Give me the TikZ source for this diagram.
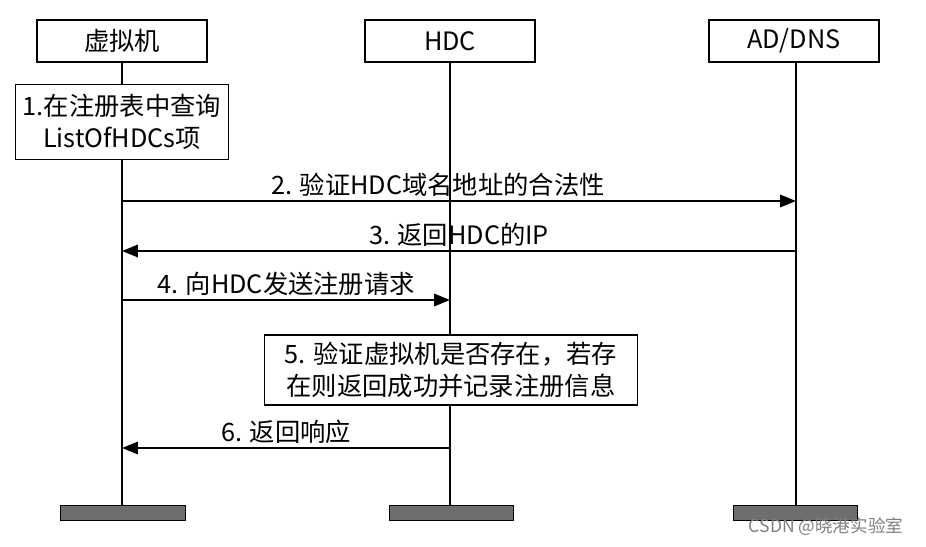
\documentclass[tikz,border=0pt]{standalone}
\usepackage{fontspec}
\setmainfont{Noto Sans CJK SC}
\usetikzlibrary{arrows.meta, positioning}
\definecolor{barGray}{RGB}{110,110,110}

\begin{document}
\begin{tikzpicture}[x=0.02cm, y=-0.02cm,
    headbox/.style={draw, thick, minimum width=3.4cm, minimum height=0.84cm, font=\Large},
    notebox/.style={draw, thick, fill=white, align=center, font=\Large, inner sep=2pt},
    lifeline/.style={thick},
    msg/.style={very thick, -{Triangle[length=9pt, width=7pt]}},
    lbl/.style={above, font=\Large, inner sep=2pt}]
    % Bounding box
    \useasboundingbox (0,0) rectangle (926,547);

    % Heads
    \node[headbox] (vm) at (122,41) {虚拟机};
    \node[headbox] (hdc) at (450,41) {HDC};
    \node[headbox] (ad) at (794,41) {AD/DNS};

    % Lifeline ends
    \coordinate (vmEnd) at (122,506);
    \coordinate (hdcEnd) at (450,506);
    \coordinate (adEnd) at (796,506);
    \draw[lifeline] (vm.south) -- (vmEnd);
    \draw[lifeline] (hdc.south) -- (hdcEnd);
    \draw[lifeline] (ad.south -| adEnd) -- (adEnd);

    % Bottom bars
    \draw[fill=barGray] (60,505) rectangle (185,520);
    \draw[fill=barGray] (389,505) rectangle (513,520);
    \draw[fill=barGray] (733,505) rectangle (857,520);

    % Notes
    \node[notebox, minimum width=4.26cm, minimum height=1.5cm] (query) at (122,122)
        {1.在注册表中查询\\ListOfHDCs项};
    \node[notebox, minimum width=7.46cm, minimum height=1.4cm] (check) at (451,370)
        {5. 验证虚拟机是否存在，若存\\在则返回成功并记录注册信息};

    % Messages
    \coordinate (m2a) at (122,201);  \coordinate (m2b) at (796,201);
    \coordinate (m3a) at (796,251);  \coordinate (m3b) at (122,251);
    \coordinate (m4a) at (122,300);  \coordinate (m4b) at (450,300);
    \coordinate (m6a) at (450,448);  \coordinate (m6b) at (122,448);
    \draw[msg] (m2a) -- node[lbl, xshift=-12] {2. 验证HDC域名地址的合法性} (m2b);
    \draw[msg] (m3a) -- node[lbl] {3. 返回HDC的IP} (m3b);
    \draw[msg] (m4a) -- node[lbl] {4. 向HDC发送注册请求} (m4b);
    \draw[msg] (m6a) -- node[lbl] {6. 返回响应} (m6b);

    % Watermark
    \node[text=gray, font=\normalsize] (mark) at (826,527) {CSDN @晓港实验室};
\end{tikzpicture}
\end{document}
